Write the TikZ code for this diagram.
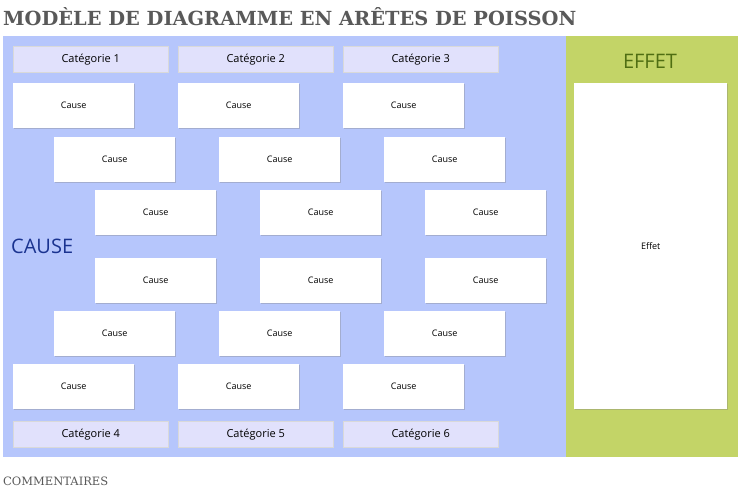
\documentclass[tikz,border=0pt]{standalone}
\usepackage{fontspec}
\setmainfont{Open Sans}
\newfontfamily\titlefont{DejaVu Serif}
\usetikzlibrary{shadows}
\definecolor{bluebg}{HTML}{B6C6FC}
\definecolor{greenbg}{HTML}{C3D467}
\definecolor{catfill}{HTML}{E1E1FC}
\definecolor{effetcol}{HTML}{4F6E12}
\definecolor{causecol}{HTML}{1A3390}
\begin{document}
\begin{tikzpicture}[x=1pt,y=-1pt,
  causebox/.style={draw=none,fill=white,minimum width=121pt,minimum height=45pt,anchor=north west,font=\fontsize{9}{10}\selectfont,drop shadow={shadow xshift=1pt,shadow yshift=-1pt,opacity=0.35}},
  catbox/.style={draw=gray!30,fill=catfill,minimum width=155pt,minimum height=26pt,anchor=north west,font=\fontsize{11}{12}\selectfont,drop shadow={shadow xshift=1pt,shadow yshift=-1pt,opacity=0.3}}]
\useasboundingbox (0,0) rectangle (741,489);
\fill[white] (0,0) rectangle (741,489);
\node[anchor=west,inner sep=0,text=black!65,font=\titlefont\bfseries\fontsize{19.4}{21}\selectfont] (title) at (3,17) {MODÈLE DE DIAGRAMME EN ARÊTES DE POISSON};
\fill[bluebg] (3,36) rectangle (566,457);
\fill[greenbg] (566,36) rectangle (738,457);
\node[text=effetcol,font=\fontsize{20}{22}\selectfont] (effettitle) at (650,61) {EFFET};
\node[causebox,minimum width=153pt,minimum height=326pt] (effet) at (574,83) {Effet};
\node[anchor=west,inner sep=0,text=causecol,font=\fontsize{20}{22}\selectfont] (causetitle) at (11,246) {CAUSE};
\foreach \x/\n in {13/1,178/2,343/3}{\node[catbox] (cat\n) at (\x,46) {Catégorie \n};}
\foreach \x/\n in {13/4,178/5,343/6}{\node[catbox] (cat\n) at (\x,421) {Catégorie \n};}
\foreach \y/\o/\r in {83/13/1,137/54/2,190/95/3,258/95/4,311/54/5,364/13/6}{
  \foreach \i in {0,1,2}{
    \node[causebox] (c\r\i) at ({\o+165*\i},\y) {Cause};}}
\node[anchor=west,inner sep=0,text=black!65,font=\titlefont\fontsize{11.5}{12}\selectfont] (comm) at (3,481) {COMMENTAIRES};
\end{tikzpicture}
\end{document}
